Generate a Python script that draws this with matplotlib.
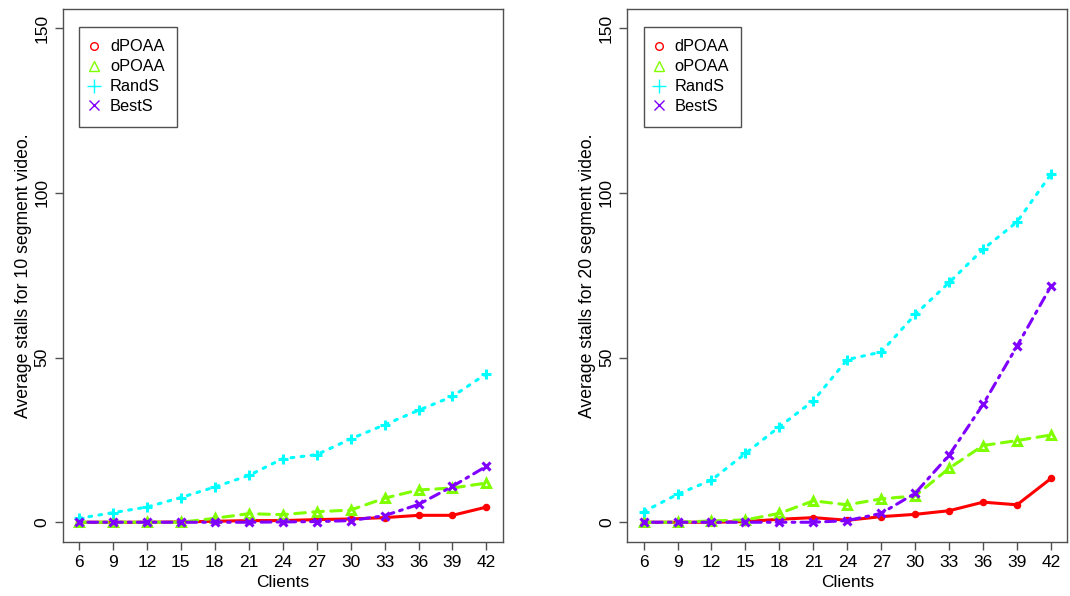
import matplotlib
matplotlib.use("Agg")
import matplotlib.pyplot as plt
from matplotlib.lines import Line2D

plt.rcParams['font.family'] = ['Liberation Sans', 'DejaVu Sans']

clients = [6, 9, 12, 15, 18, 21, 24, 27, 30, 33, 36, 39, 42]
series_names = ["dPOAA", "oPOAA", "RandS", "BestS"]

# 10 segment video
dpoaa_10 = [0, 0, 0, 0.1, 0.3, 0.5, 0.5, 0.8, 1.0, 1.4, 2.1, 2.1, 4.6]
opoaa_10 = [0, 0, 0, 0, 1.2, 2.6, 2.3, 3.2, 3.7, 7.3, 9.8, 10.4, 11.9]
rands_10 = [1.2, 2.9, 4.6, 7.5, 10.7, 14.2, 19.3, 20.5, 25.3, 29.6, 34.0, 38.2, 45.1]
bests_10 = [0, 0, 0, 0, 0, 0, 0.1, 0.2, 0.5, 2.0, 5.4, 10.9, 17.0]

# 20 segment video
dpoaa_20 = [0, 0, 0, 0.2, 0.9, 1.4, 0.6, 1.7, 2.4, 3.5, 6.1, 5.3, 13.3]
opoaa_20 = [0, 0, 0.4, 0.7, 2.7, 6.5, 5.3, 7.1, 8.0, 16.4, 23.3, 24.8, 26.5]
rands_20 = [3.2, 8.5, 12.8, 20.9, 29.0, 36.9, 49.4, 51.7, 63.1, 72.8, 82.9, 91.2, 105.7]
bests_20 = [0, 0, 0, 0, 0, 0, 0.5, 2.7, 8.8, 20.4, 35.8, 53.5, 71.7]

ylabels = ["Average stalls for 10 segment video.", "Average stalls for 20 segment video."]
yticks = [0, 50, 100, 150]

colors = ["#FF0000", "#80FF00", "#00FFFF", "#8000FF"]
markers = ["o", "^", "+", "x"]
msizes = [3.2, 5.2, 7, 5.2]
dashes = [None, (3.5, 2.4), (0.9, 2.4), (0.9, 2.0, 3.2, 2.0)]

W, H = 1070, 596
fig = plt.figure(figsize=(W / 100, H / 100), dpi=100)

axes_px = [(62.7, 502.7), (627.3, 1067.3)]
top_px, bot_px = 8.5, 542.0

data_sets = [
    [dpoaa_10, opoaa_10, rands_10, bests_10],
    [dpoaa_20, opoaa_20, rands_20, bests_20],
]

spine_col = "#505050"
for (x0, x1), ser, ylab in zip(axes_px, data_sets, ylabels):
    ax = fig.add_axes([x0 / W, (H - bot_px) / H, (x1 - x0) / W, (bot_px - top_px) / H])
    for vals, c, m, ms, d in zip(ser, colors, markers, msizes, dashes):
        ln, = ax.plot(clients, vals, color=c, marker=m, markersize=ms,
                      markeredgewidth=2.2, markerfacecolor='none', linewidth=2.2,
                      solid_capstyle='round', dash_capstyle='round')
        if d is not None:
            ln.set_dashes(d)
    ax.set_xlim(4.56, 43.44)
    ax.set_ylim(-6, 156)
    ax.set_xticks(clients)
    ax.set_yticks(yticks)
    ax.set_yticklabels([str(t) for t in yticks], rotation=90, va='center')
    ax.tick_params(axis='both', length=5.5, width=1, color=spine_col, labelsize=12.5)
    ax.tick_params(axis='x', pad=4.0)
    ax.tick_params(axis='y', pad=4)
    for s in ax.spines.values():
        s.set_color(spine_col)
        s.set_linewidth(1)
    ax.set_xlabel("Clients", fontsize=12.5, labelpad=3.5)
    ax.set_ylabel(ylab, fontsize=12.7, labelpad=2)

    handles = [Line2D([], [], linestyle='none', marker=m, color=c, markerfacecolor='none',
                      markeredgewidth=1, markersize=ms2)
               for m, c, ms2 in zip(markers, colors, [5.5, 7.5, 10, 7])]
    leg = ax.legend(handles, series_names, loc='upper left', bbox_to_anchor=(0.037, 0.965),
                    borderaxespad=0, fancybox=False, edgecolor=spine_col, fontsize=11.8,
                    handlelength=0.33, handletextpad=0.81, labelspacing=0.3, borderpad=0.75,
                    framealpha=1)
    leg.get_frame().set_linewidth(1)

fig.savefig("out.png", dpi=100)
